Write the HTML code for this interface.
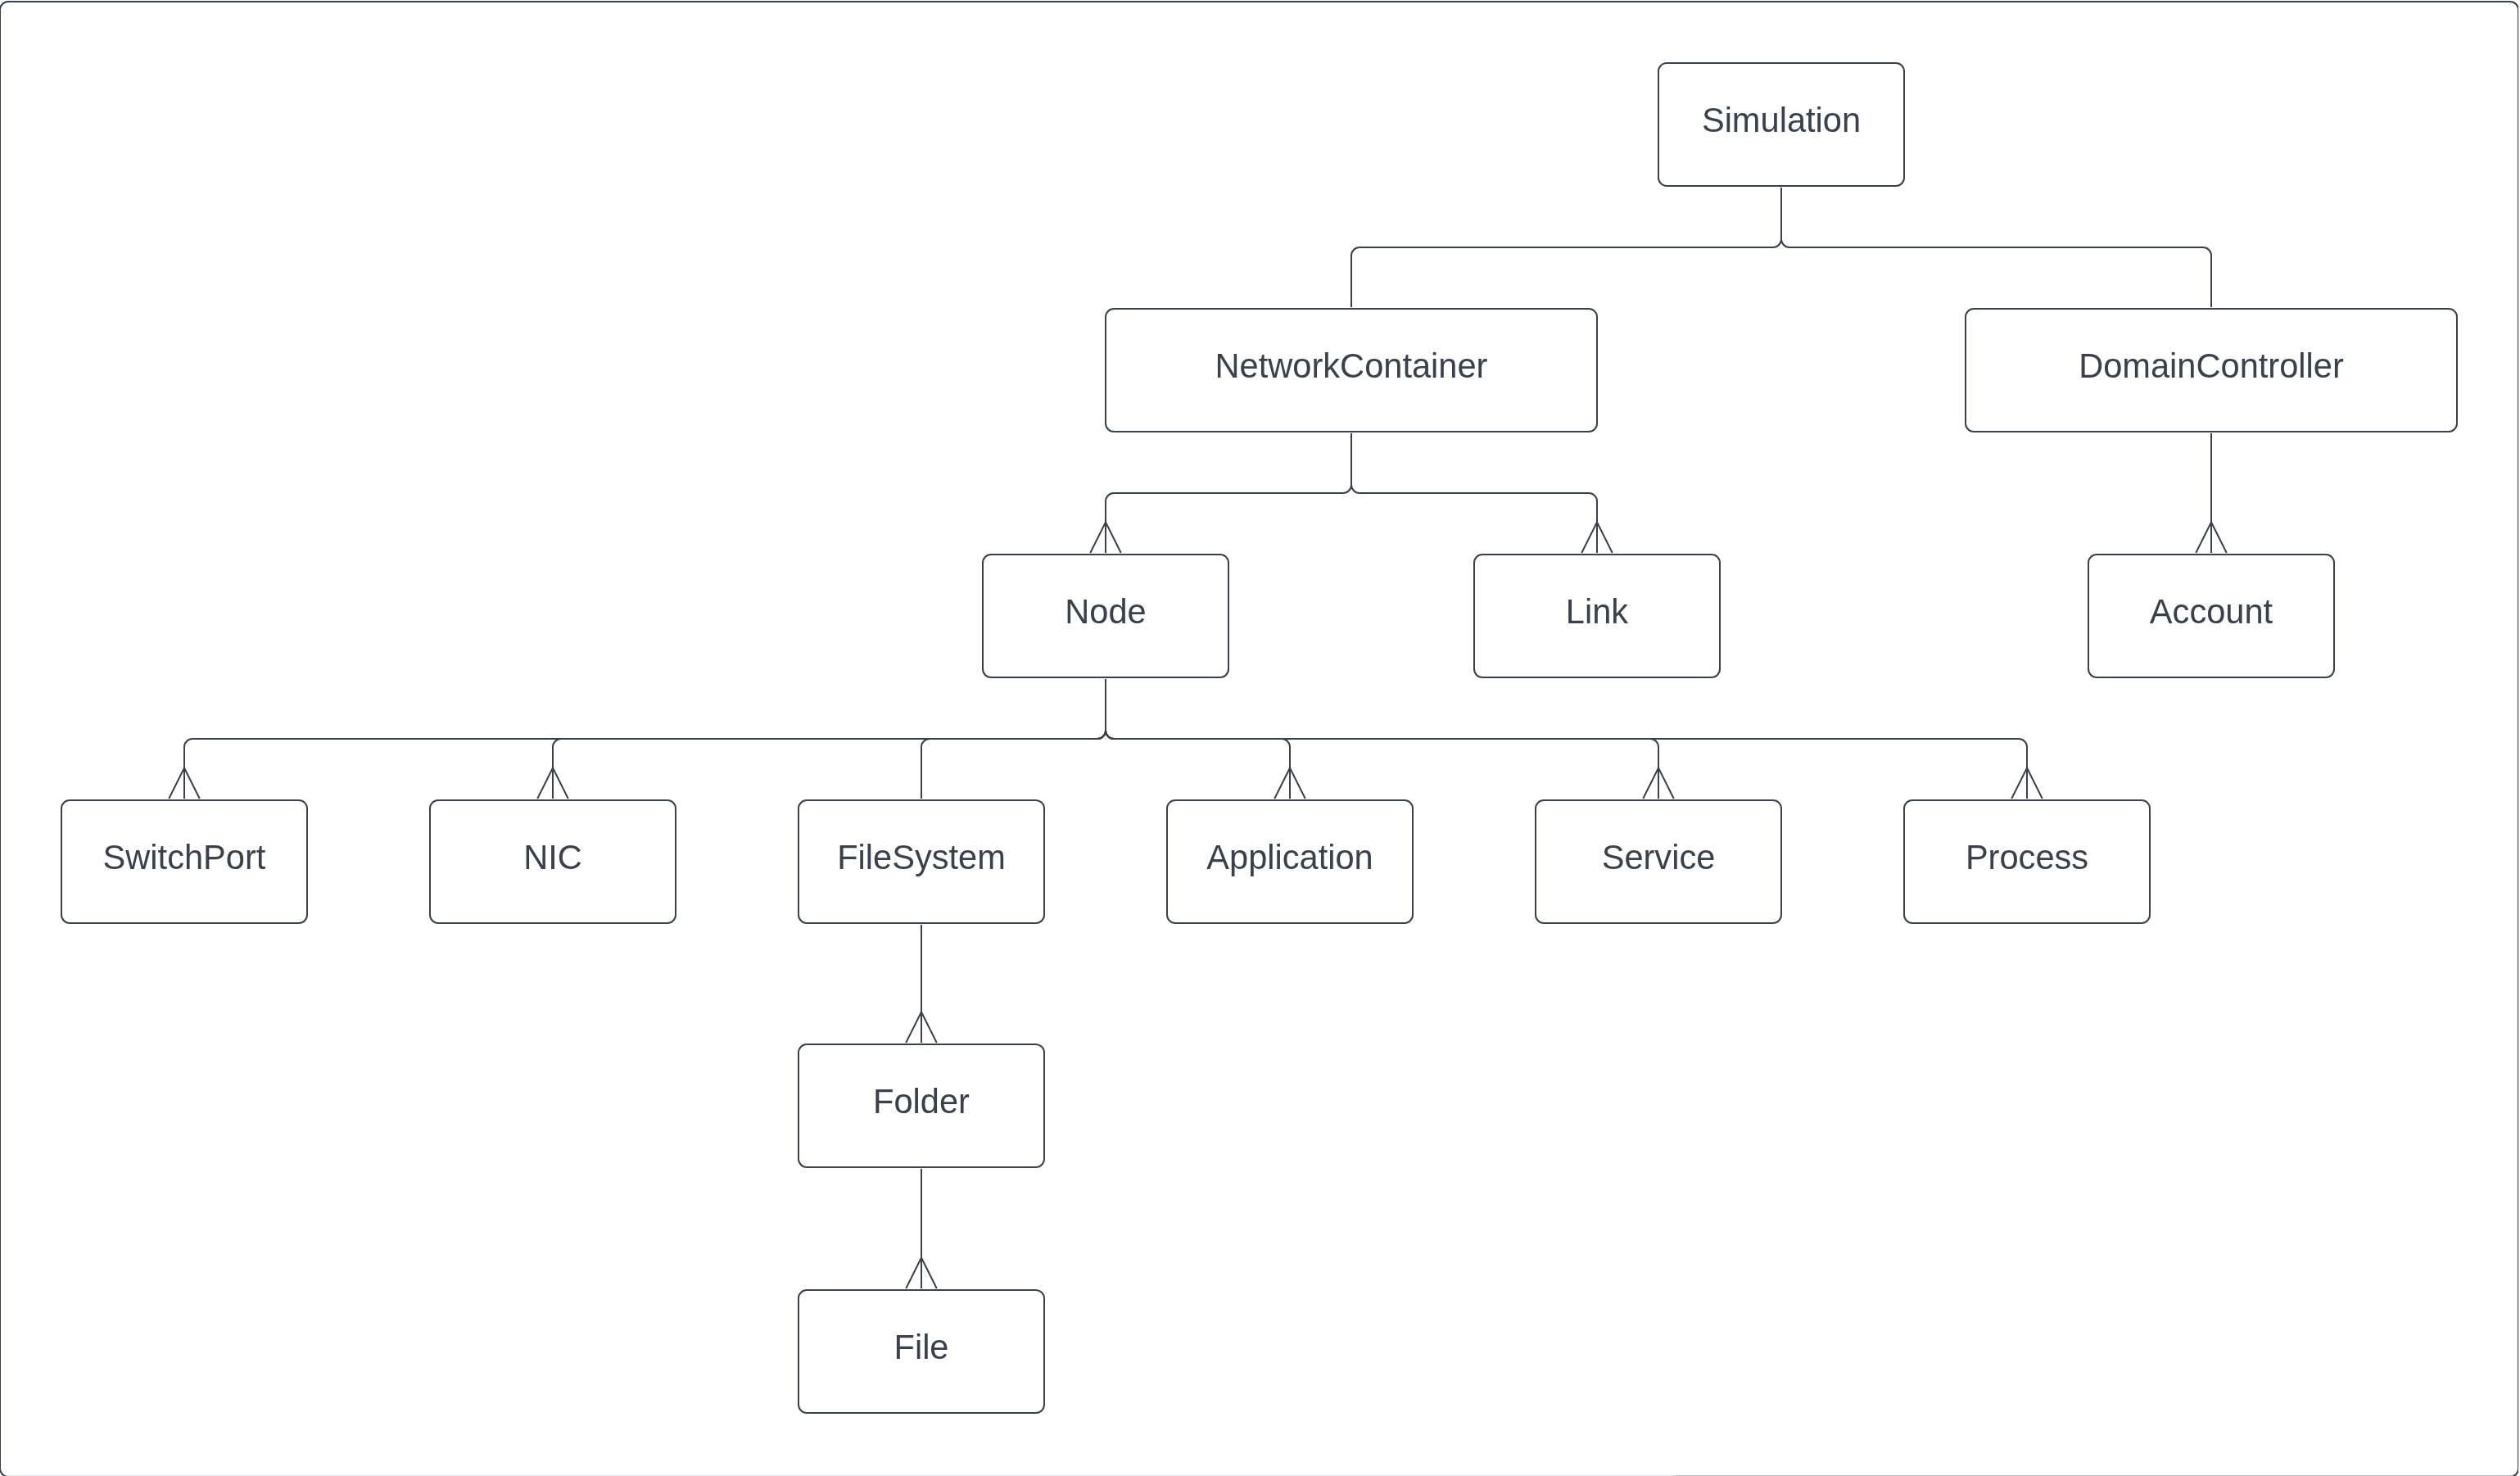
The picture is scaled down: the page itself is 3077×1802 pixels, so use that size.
<!DOCTYPE html><html><head><meta charset="utf-8"><style>html,body{margin:0;padding:0;background:#fff;}svg{display:block;}text{font-family:"Liberation Sans",sans-serif;font-size:41.6px;fill:#3a414a;}</style></head><body>
<svg width="3077" height="1802" viewBox="0 0 3077 1802" xmlns="http://www.w3.org/2000/svg">
<rect width="3077" height="1802" fill="#fff"/>
<defs><clipPath id="fc"><rect x="-5" y="-5" width="3080.1" height="1820"/></clipPath></defs>
<rect x="0" y="2" width="3075" height="1800.9" rx="10" ry="10" fill="none" stroke="#3a414a" stroke-width="2" clip-path="url(#fc)"/>
<rect x="3075" y="12" width="1" height="1780" fill="#3a414a" fill-opacity="0.1"/>
<rect x="10" y="1801" width="2035" height="1" fill="#3a414a" fill-opacity="0.14"/>
<rect x="2046" y="1801" width="1020" height="1" fill="#3a414a" fill-opacity="0.38"/>
<g fill="none" stroke="#3a414a" stroke-width="2">
<path d="M2175.0 229.0V292.0A10 10 0 0 1 2165.0 302.0H1660.0A10 10 0 0 0 1650.0 312.0V375.0"/>
<path d="M2175.0 229.0V292.0A10 10 0 0 0 2185.0 302.0H2690.0A10 10 0 0 1 2700.0 312.0V375.0"/>
<path d="M1650.0 529.0V592.0A10 10 0 0 1 1640.0 602.0H1360.0A10 10 0 0 0 1350.0 612.0V675.0"/>
<path d="M1331.25 675.0L1350.0 637.5L1368.75 675.0"/>
<path d="M1650.0 529.0V592.0A10 10 0 0 0 1660.0 602.0H1940.0A10 10 0 0 1 1950.0 612.0V675.0"/>
<path d="M1931.25 675.0L1950.0 637.5L1968.75 675.0"/>
<path d="M2700.0 529.0V675.0"/>
<path d="M2681.25 675.0L2700.0 637.5L2718.75 675.0"/>
<path d="M1350.0 829.0V892.0A10 10 0 0 1 1340.0 902.0H235.0A10 10 0 0 0 225.0 912.0V975.0"/>
<path d="M206.25 975.0L225.0 937.5L243.75 975.0"/>
<path d="M1350.0 829.0V892.0A10 10 0 0 1 1340.0 902.0H685.0A10 10 0 0 0 675.0 912.0V975.0"/>
<path d="M656.25 975.0L675.0 937.5L693.75 975.0"/>
<path d="M1350.0 829.0V892.0A10 10 0 0 1 1340.0 902.0H1135.0A10 10 0 0 0 1125.0 912.0V975.0"/>
<path d="M1350.0 829.0V892.0A10 10 0 0 0 1360.0 902.0H1565.0A10 10 0 0 1 1575.0 912.0V975.0"/>
<path d="M1556.25 975.0L1575.0 937.5L1593.75 975.0"/>
<path d="M1350.0 829.0V892.0A10 10 0 0 0 1360.0 902.0H2015.0A10 10 0 0 1 2025.0 912.0V975.0"/>
<path d="M2006.25 975.0L2025.0 937.5L2043.75 975.0"/>
<path d="M1350.0 829.0V892.0A10 10 0 0 0 1360.0 902.0H2465.0A10 10 0 0 1 2475.0 912.0V975.0"/>
<path d="M2456.25 975.0L2475.0 937.5L2493.75 975.0"/>
<path d="M1125.0 1129.0V1273.0"/>
<path d="M1106.25 1273.0L1125.0 1235.5L1143.75 1273.0"/>
<path d="M1125.0 1427.0V1573.0"/>
<path d="M1106.25 1573.0L1125.0 1535.5L1143.75 1573.0"/>
<rect x="2025" y="77" width="300" height="150" rx="10" ry="10"/>
<rect x="1350" y="377" width="600" height="150" rx="10" ry="10"/>
<rect x="2400" y="377" width="600" height="150" rx="10" ry="10"/>
<rect x="1200" y="677" width="300" height="150" rx="10" ry="10"/>
<rect x="1800" y="677" width="300" height="150" rx="10" ry="10"/>
<rect x="2550" y="677" width="300" height="150" rx="10" ry="10"/>
<rect x="75" y="977" width="300" height="150" rx="10" ry="10"/>
<rect x="525" y="977" width="300" height="150" rx="10" ry="10"/>
<rect x="975" y="977" width="300" height="150" rx="10" ry="10"/>
<rect x="1425" y="977" width="300" height="150" rx="10" ry="10"/>
<rect x="1875" y="977" width="300" height="150" rx="10" ry="10"/>
<rect x="2325" y="977" width="300" height="150" rx="10" ry="10"/>
<rect x="975" y="1275" width="300" height="150" rx="10" ry="10"/>
<rect x="975" y="1575" width="300" height="150" rx="10" ry="10"/>
</g>
<g text-anchor="middle" style="will-change:transform">
<text x="2175.0" y="160.6">Simulation</text>
<text x="1650.0" y="460.6">NetworkContainer</text>
<text x="2700.0" y="460.6">DomainController</text>
<text x="1350.0" y="760.6">Node</text>
<text x="1950.0" y="760.6">Link</text>
<text x="2700.0" y="760.6">Account</text>
<text x="225.0" y="1060.6">SwitchPort</text>
<text x="675.0" y="1060.6">NIC</text>
<text x="1125.0" y="1060.6">FileSystem</text>
<text x="1575.0" y="1060.6">Application</text>
<text x="2025.0" y="1060.6">Service</text>
<text x="2475.0" y="1060.6">Process</text>
<text x="1125.0" y="1358.6">Folder</text>
<text x="1125.0" y="1658.6">File</text>
</g></svg></body></html>
